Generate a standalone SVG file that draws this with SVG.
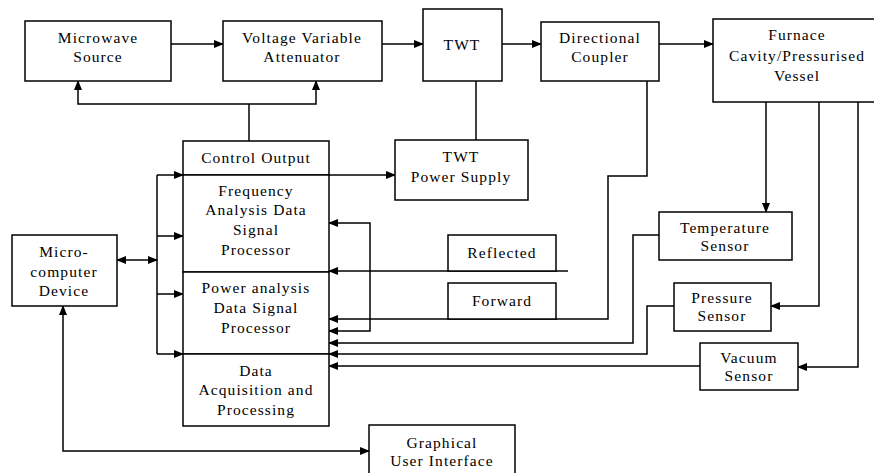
<svg xmlns="http://www.w3.org/2000/svg" width="874" height="473" viewBox="0 0 874 473">
<style>
.box{fill:#fff;stroke:#000;stroke-width:1.5}
.ln{fill:none;stroke:#000;stroke-width:1.5}
.a{marker-end:url(#ah)}
.aa{marker-start:url(#ah);marker-end:url(#ah)}
text{font-family:"Liberation Serif","Times New Roman",serif;font-size:15.5px;letter-spacing:1.1px;text-anchor:middle;fill:#000}
</style>
<defs>
<marker id="ah" markerUnits="userSpaceOnUse" markerWidth="10" markerHeight="8" refX="9" refY="4" orient="auto-start-reverse">
<path d="M0,0 L10,4 L0,8 z" fill="#000"/>
</marker>
</defs>
<rect width="874" height="473" fill="#fff"/>
<g id="connectors">
<path class="ln a" d="M171,44 H223"/>
<path class="ln a" d="M382,44 H423"/>
<path class="ln a" d="M502,44 H541"/>
<path class="ln a" d="M659,44 H713"/>
<path class="ln" d="M249,141 V104"/>
<path class="ln a" d="M249,104 H78 V81"/>
<path class="ln a" d="M249,104 H316 V81"/>
<path class="ln" d="M476,81 V140"/>
<path class="ln a" d="M329,175 H395"/>
<path class="ln" d="M157,175 V354"/>
<path class="ln a" d="M157,175 H183"/>
<path class="ln a" d="M157,236 H183"/>
<path class="ln a" d="M157,294 H183"/>
<path class="ln a" d="M157,354 H183"/>
<path class="ln aa" d="M117,260 H157"/>
<path class="ln aa" d="M63,306 V451 H369"/>
<path class="ln a" d="M568,271 H329"/>
<path class="ln aa" d="M329,223 H370 V331 H329"/>
<path class="ln a" d="M647,81 V176 H608 V319 H329"/>
<path class="ln a" d="M659,235 H633 V343 H329"/>
<path class="ln a" d="M674,306 H647 V354 H329"/>
<path class="ln a" d="M700,366 H329"/>
<path class="ln a" d="M766,102 V212"/>
<path class="ln a" d="M819,102 V306 H771"/>
<path class="ln a" d="M858,102 V367 H798"/>
</g>
<g id="microwave-source"><rect class="box" x="25" y="21" width="146" height="60"/><text x="98" y="43">Microwave</text><text x="98" y="62">Source</text></g>
<g id="attenuator"><rect class="box" x="223" y="21" width="159" height="60"/><text x="302" y="43">Voltage Variable</text><text x="302" y="62">Attenuator</text></g>
<g id="twt"><rect class="box" x="423" y="9" width="79" height="72"/><text x="462" y="50">TWT</text></g>
<g id="directional-coupler"><rect class="box" x="541" y="22" width="118" height="59"/><text x="600" y="43">Directional</text><text x="600" y="62">Coupler</text></g>
<g id="furnace"><rect class="box" x="713" y="19" width="170" height="83"/><text x="797" y="40">Furnace</text><text x="797" y="61">Cavity/Pressurised</text><text x="797" y="81">Vessel</text></g>
<g id="twt-power-supply"><rect class="box" x="395" y="140" width="133" height="60"/><text x="461" y="162">TWT</text><text x="461" y="182">Power Supply</text></g>
<g id="control-output"><rect class="box" x="183" y="141" width="146" height="34"/><text x="256" y="163">Control Output</text></g>
<g id="frequency-analysis"><rect class="box" x="183" y="175" width="146" height="97"/><text x="256" y="196">Frequency</text><text x="256" y="215">Analysis Data</text><text x="256" y="235">Signal</text><text x="256" y="255">Processor</text></g>
<g id="power-analysis"><rect class="box" x="183" y="272" width="146" height="82"/><text x="256" y="293">Power analysis</text><text x="256" y="313">Data Signal</text><text x="256" y="333">Processor</text></g>
<g id="data-acquisition"><rect class="box" x="183" y="354" width="146" height="72"/><text x="256" y="376">Data</text><text x="256" y="395">Acquisition and</text><text x="256" y="415">Processing</text></g>
<g id="microcomputer"><rect class="box" x="12" y="235" width="105" height="71"/><text x="64" y="257">Micro-</text><text x="64" y="277">computer</text><text x="64" y="296">Device</text></g>
<g id="reflected"><rect class="box" x="448" y="235" width="108" height="36"/><text x="502" y="258">Reflected</text></g>
<g id="forward"><rect class="box" x="448" y="283" width="108" height="36"/><text x="502" y="306">Forward</text></g>
<g id="temperature-sensor"><rect class="box" x="659" y="212" width="133" height="48"/><text x="725" y="233">Temperature</text><text x="725" y="251">Sensor</text></g>
<g id="pressure-sensor"><rect class="box" x="674" y="283" width="97" height="48"/><text x="722" y="303">Pressure</text><text x="722" y="321">Sensor</text></g>
<g id="vacuum-sensor"><rect class="box" x="700" y="343" width="98" height="47"/><text x="749" y="363">Vacuum</text><text x="749" y="381">Sensor</text></g>
<g id="gui"><rect class="box" x="369" y="425" width="146" height="60"/><text x="442" y="448">Graphical</text><text x="442" y="466">User Interface</text></g>
</svg>
